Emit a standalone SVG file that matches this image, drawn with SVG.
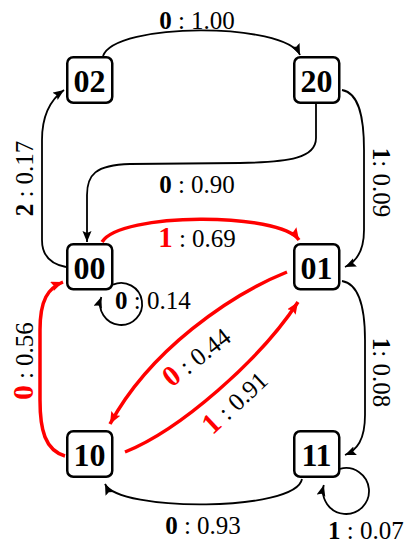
<svg xmlns="http://www.w3.org/2000/svg" width="410" height="544" viewBox="0 0 410 544">
<style>
.node rect{fill:#fff;stroke:#000;stroke-width:2.5}
.node text{font-family:"Liberation Serif","Times New Roman",serif;font-weight:bold;font-size:32px;text-anchor:middle;fill:#000}
.e{fill:none;stroke:#000;stroke-width:1.8}
.er{fill:none;stroke:#f00;stroke-width:3.5}
.lbl{font-family:"Liberation Serif","Times New Roman",serif;font-size:25px;fill:#000}
.b{font-weight:bold}
.r{font-weight:bold;fill:#f00;font-size:29px}
.m{text-anchor:middle}
</style>
<defs>
<marker id="ab" markerUnits="userSpaceOnUse" markerWidth="12" markerHeight="10" refX="11" refY="4.5" orient="auto">
<path d="M0,0 L11,4.5 L0,9 L2,4.5 z" fill="#000"/>
</marker>
<marker id="ar" markerUnits="userSpaceOnUse" markerWidth="13" markerHeight="11" refX="12" refY="5" orient="auto">
<path d="M0,0 L12,5 L0,10 L2,5 z" fill="#f00"/>
</marker>
</defs>
<g id="connectors">
<path class="e" d="M103,56 C115,22 285,22 300,55" marker-end="url(#ab)"/>
<path class="e" d="M316,104 V138 C316,158 290,162 240,163 L130,164 C95,165 87,175 87,195 V242" marker-end="url(#ab)"/>
<path class="e" d="M66,267 C50,264 42,255 42,240 L42,140 C42,115 50,100 64,90" marker-end="url(#ab)"/>
<path class="e" d="M342,90 C360,93 364,120 364,150 L364,230 C364,250 356,262 345,267" marker-end="url(#ab)"/>
<path class="er" d="M102,242 C120,212 280,212 299,240" marker-end="url(#ar)"/>
<path class="e" d="M113,284.6 A21,21 0 1 1 101.3,297" marker-end="url(#ab)"/>
<path class="er" d="M287,272 C230,295 150,350 110,424" marker-end="url(#ar)"/>
<path class="er" d="M125,452 C180,430 260,360 298,302" marker-end="url(#ar)"/>
<path class="er" d="M65,456 C45,450 40,430 40,400 L40,330 C40,300 48,288 63,282" marker-end="url(#ar)"/>
<path class="e" d="M342,281 C360,284 365,310 365,340 L365,415 C365,440 357,450 345,455" marker-end="url(#ab)"/>
<path class="e" d="M302,479 C296,512 118,512 105,484" marker-end="url(#ab)"/>
<path class="e" d="M340,468.8 A23,23 0 1 1 323.8,485" marker-end="url(#ab)"/>
</g>
<g id="labels">
<text class="lbl m" x="197" y="29"><tspan class="b">0</tspan> : 1.00</text>
<text class="lbl m" x="197" y="193"><tspan class="b">0</tspan> : 0.90</text>
<text class="lbl m" x="197" y="247"><tspan class="r">1</tspan> : 0.69</text>
<text class="lbl" x="115" y="309"><tspan class="b">0</tspan> : 0.14</text>
<text class="lbl m" transform="translate(33,178.5) rotate(-90)"><tspan class="b">2</tspan> : 0.17</text>
<text class="lbl m" transform="translate(33,361) rotate(-90)"><tspan class="r">0</tspan> : 0.56</text>
<text class="lbl m" transform="translate(373,182.5) rotate(90)"><tspan class="b">1</tspan>: 0.09</text>
<text class="lbl m" transform="translate(373,372.5) rotate(90)"><tspan class="b">1</tspan>: 0.08</text>
<text class="lbl m" transform="translate(202,364) rotate(-38)"><tspan class="r">0</tspan> : 0.44</text>
<text class="lbl m" transform="translate(241,409) rotate(-43)"><tspan class="r">1</tspan> : 0.91</text>
<text class="lbl m" x="203" y="534"><tspan class="b">0</tspan> : 0.93</text>
<text class="lbl" x="328" y="539"><tspan class="b">1</tspan> : 0.07</text>
</g>
<g id="n02" class="node"><rect x="67.25" y="57.25" width="45" height="45.5" rx="6"/><text x="89.5" y="92">02</text></g>
<g id="n20" class="node"><rect x="294.25" y="57.25" width="45" height="45.5" rx="6"/><text x="316.5" y="92">20</text></g>
<g id="n00" class="node"><rect x="67.25" y="244.25" width="45" height="45" rx="6"/><text x="89.5" y="279">00</text></g>
<g id="n01" class="node"><rect x="294.25" y="244.25" width="45" height="45" rx="6"/><text x="316.5" y="279">01</text></g>
<g id="n10" class="node"><rect x="67.25" y="431.25" width="45" height="45.5" rx="6"/><text x="89.5" y="466">10</text></g>
<g id="n11" class="node"><rect x="294.25" y="431.25" width="45" height="45.5" rx="6"/><text x="316.5" y="466">11</text></g>
</svg>
